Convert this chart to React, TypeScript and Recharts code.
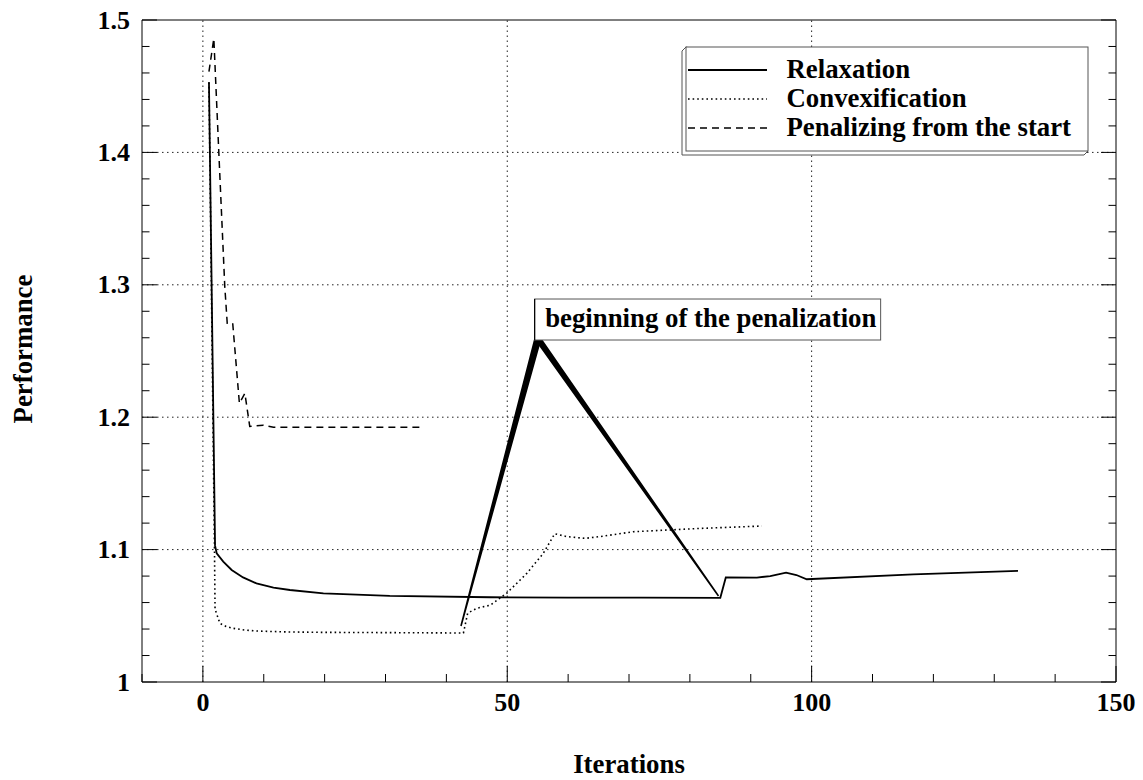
import React from 'react';
import { LineChart, Line, XAxis, YAxis, ReferenceLine, ReferenceDot, Legend } from 'recharts';

// ---------- data ----------
const relaxation = [
  { x: 1, y: 1.453 }, { x: 2, y: 1.103 }, { x: 2.27, y: 1.0972 }, { x: 3.35, y: 1.0909 },
  { x: 4.73, y: 1.0846 }, { x: 6.6, y: 1.079 }, { x: 8.8, y: 1.0745 }, { x: 11.6, y: 1.0712 },
  { x: 14.3, y: 1.0695 }, { x: 19.8, y: 1.067 }, { x: 30.7, y: 1.065 }, { x: 47.2, y: 1.064 },
  { x: 60, y: 1.0638 }, { x: 72, y: 1.0637 }, { x: 85, y: 1.0636 }, { x: 85.9, y: 1.079 },
  { x: 91, y: 1.0789 }, { x: 93.2, y: 1.08 }, { x: 95.8, y: 1.0826 }, { x: 97.5, y: 1.0808 },
  { x: 99.2, y: 1.0776 }, { x: 116.7, y: 1.0813 }, { x: 133.9, y: 1.084 },
];

const convexification = [
  { x: 1, y: 1.453 }, { x: 1.9, y: 1.103 }, { x: 2.0, y: 1.055 }, { x: 2.8, y: 1.0443 },
  { x: 3.8, y: 1.042 }, { x: 5, y: 1.0405 }, { x: 7, y: 1.0392 }, { x: 8.8, y: 1.0385 },
  { x: 14, y: 1.0378 }, { x: 19.7, y: 1.0375 }, { x: 30, y: 1.0373 }, { x: 42.8, y: 1.037 },
  { x: 43.5, y: 1.052 }, { x: 45, y: 1.0557 }, { x: 47.2, y: 1.058 }, { x: 49.9, y: 1.067 },
  { x: 53.2, y: 1.082 }, { x: 55.9, y: 1.097 }, { x: 57.8, y: 1.112 }, { x: 59.8, y: 1.1098 },
  { x: 62.8, y: 1.1085 }, { x: 65.2, y: 1.1098 }, { x: 70.7, y: 1.1135 }, { x: 81.7, y: 1.116 },
  { x: 91.8, y: 1.1178 },
];

const penalizing = [
  { x: 1, y: 1.461 }, { x: 1.8, y: 1.486 }, { x: 2.6, y: 1.402 }, { x: 3.6, y: 1.2986 },
  { x: 4.0, y: 1.271 }, { x: 4.9, y: 1.271 }, { x: 6.0, y: 1.2105 }, { x: 6.9, y: 1.218 },
  { x: 7.7, y: 1.193 }, { x: 9.9, y: 1.194 }, { x: 11.6, y: 1.1924 }, { x: 36, y: 1.1924 },
];

// wedge-shaped arrow marking the start of the penalization (fan of strokes)
const arrowLeft = [
  { x: 42.4, y: 1.0423 }, { x: 54.5, y: 1.2583 }, { x: 42.4, y: 1.0423 }, { x: 54.75, y: 1.2583 },
  { x: 42.4, y: 1.0423 }, { x: 55.0, y: 1.2583 }, { x: 42.4, y: 1.0423 }, { x: 55.25, y: 1.2583 },
  { x: 42.4, y: 1.0423 }, { x: 55.45, y: 1.2583 },
];
const arrowRight = [
  { x: 84.7, y: 1.065 }, { x: 54.7, y: 1.2583 }, { x: 84.7, y: 1.065 }, { x: 54.95, y: 1.2583 },
  { x: 84.7, y: 1.065 }, { x: 55.2, y: 1.2583 }, { x: 84.7, y: 1.065 }, { x: 55.45, y: 1.2583 },
  { x: 84.7, y: 1.065 }, { x: 55.65, y: 1.2583 },
];

const annotation = { x: 54.5, y: 1.2583, text: 'beginning of the penalization' };

const xDomain = [-10, 150];
const yDomain = [1, 1.5];
const xTicks = [-10, 0, 10, 20, 30, 40, 50, 60, 70, 80, 90, 100, 110, 120, 130, 140, 150];
const xMajor = [0, 50, 100, 150];
const yTicks = [
  1, 1.02, 1.04, 1.06, 1.08, 1.1, 1.12, 1.14, 1.16, 1.18, 1.2, 1.22, 1.24, 1.26, 1.28, 1.3,
  1.32, 1.34, 1.36, 1.38, 1.4, 1.42, 1.44, 1.46, 1.48, 1.5,
];
const yMajor = [1, 1.1, 1.2, 1.3, 1.4, 1.5];
const xGrid = [0, 50, 100];
const yGrid = [1.1, 1.2, 1.3, 1.4];

const series = [
  { name: 'Relaxation', data: relaxation, dash: undefined as string | undefined, width: 1.8 },
  { name: 'Convexification', data: convexification, dash: '1.6 3', width: 1.6 },
  { name: 'Penalizing from the start', data: penalizing, dash: '7 5', width: 1.5 },
];

// ---------- styling ----------
const FONT = "'Liberation Serif', 'Times New Roman', Times, serif";
const TEXT_SIZE = 26.8;
const TICK_SIZE = 26;
const W = 1143;
const H = 780;

const isMajorX = (v: number) => xMajor.some((m) => Math.abs(m - v) < 1e-9);
const isMajorY = (v: number) => yMajor.some((m) => Math.abs(m - v) < 1e-9);
const fmtY = (v: number) => String(Math.round(v * 10) / 10);

const BottomTick = (props: any) => {
  const { x, y, payload } = props;
  const major = isMajorX(payload.value);
  return (
    <g>
      <line x1={x} x2={x} y1={y} y2={y - (major ? 16 : 8)} stroke="#000" strokeWidth={1} />
      {major && (
        <text x={x} y={y + 29} textAnchor="middle" fontFamily={FONT} fontWeight="bold" fontSize={TICK_SIZE} fill="#000">
          {payload.value}
        </text>
      )}
    </g>
  );
};

const TopTick = (props: any) => {
  const { x, y, payload } = props;
  const major = isMajorX(payload.value);
  return <line x1={x} x2={x} y1={y} y2={y + (major ? 16 : 8)} stroke="#000" strokeWidth={1} />;
};

const LeftTick = (props: any) => {
  const { x, y, payload } = props;
  const major = isMajorY(payload.value);
  return (
    <g>
      <line x1={x} x2={x + (major ? 15 : 7.5)} y1={y} y2={y} stroke="#000" strokeWidth={1} />
      {major && (
        <text x={x - 12} y={y + 8.5} textAnchor="end" fontFamily={FONT} fontWeight="bold" fontSize={TICK_SIZE} fill="#000">
          {fmtY(payload.value)}
        </text>
      )}
    </g>
  );
};

const RightTick = (props: any) => {
  const { x, y, payload } = props;
  const major = isMajorY(payload.value);
  return <line x1={x} x2={x - (major ? 15 : 7.5)} y1={y} y2={y} stroke="#000" strokeWidth={1} />;
};

const XTitle = (props: any) => {
  const vb = props.viewBox || { x: 142, y: 682, width: 974, height: 98 };
  return (
    <text x={vb.x + vb.width / 2} y={vb.y + 91} textAnchor="middle" fontFamily={FONT} fontWeight="bold" fontSize={TEXT_SIZE} fill="#000">
      Iterations
    </text>
  );
};

const YTitle = (props: any) => {
  const vb = props.viewBox || { x: 0, y: 20, width: 142, height: 662 };
  const cx = 32;
  const cy = vb.y + vb.height / 2 - 2;
  return (
    <text x={cx} y={cy} transform={`rotate(-90 ${cx} ${cy})`} textAnchor="middle" fontFamily={FONT} fontWeight="bold" fontSize={TEXT_SIZE} fill="#000">
      Performance
    </text>
  );
};

const AnnotationShape = (props: any) => {
  const { cx, cy } = props;
  if (cx == null || cy == null) return null;
  return (
    <g>
      <rect x={cx} y={cy - 41} width={346} height={41} fill="#fff" stroke="#555" strokeWidth={1} />
      <line x1={cx} x2={cx} y1={cy} y2={cy - 41} stroke="#000" strokeWidth={1.2} />
      <text x={cx + 10.5} y={cy - 13} fontFamily={FONT} fontWeight="bold" fontSize={TEXT_SIZE} fill="#000">
        {annotation.text}
      </text>
    </g>
  );
};

const LegendBox = () => (
  <svg width={412} height={114} style={{ display: 'block', overflow: 'visible' }}>
    <polygon points="6,2 2,6 2,110 404,110 408,106" fill="#fff" stroke="#555" strokeWidth={1} />
    <rect x={6} y={2} width={402} height={104} fill="#fff" stroke="#555" strokeWidth={1} />
    {series.map((s, i) => {
      const ly = 25 + i * 29;
      return (
        <g key={s.name}>
          <line x1={8} x2={87} y1={ly} y2={ly} stroke="#000" strokeWidth={s.width} strokeDasharray={s.dash} />
          <text x={106.5} y={ly + 8} fontFamily={FONT} fontWeight="bold" fontSize={TEXT_SIZE} fill="#000">
            {s.name}
          </text>
        </g>
      );
    })}
  </svg>
);

export default function App() {
  return (
    <div style={{ position: 'absolute', left: 0, top: 0, width: W, height: H, background: '#fff' }}>
      <LineChart width={W} height={H} margin={{ top: 19, right: 26, bottom: 0, left: 0 }}>
        <XAxis
          xAxisId="x"
          type="number"
          dataKey="x"
          domain={xDomain}
          allowDataOverflow
          ticks={xTicks}
          interval={0}
          orientation="bottom"
          height={98}
          tickSize={0}
          tickMargin={0}
          tickLine={false}
          axisLine={{ stroke: '#000', strokeWidth: 1 }}
          tick={<BottomTick />}
          label={<XTitle />}
        />
        <XAxis
          xAxisId="top"
          type="number"
          domain={xDomain}
          allowDataOverflow
          ticks={xTicks}
          interval={0}
          orientation="top"
          height={1}
          tickSize={0}
          tickMargin={0}
          tickLine={false}
          axisLine={{ stroke: '#000', strokeWidth: 1 }}
          tick={<TopTick />}
        />
        <YAxis
          yAxisId="y"
          type="number"
          domain={yDomain}
          allowDataOverflow
          ticks={yTicks}
          interval={0}
          orientation="left"
          width={142}
          tickSize={0}
          tickMargin={0}
          tickLine={false}
          axisLine={{ stroke: '#000', strokeWidth: 1 }}
          tick={<LeftTick />}
          label={<YTitle />}
        />
        <YAxis
          yAxisId="right"
          type="number"
          domain={yDomain}
          allowDataOverflow
          ticks={yTicks}
          interval={0}
          orientation="right"
          width={1}
          tickSize={0}
          tickMargin={0}
          tickLine={false}
          axisLine={{ stroke: '#000', strokeWidth: 1 }}
          tick={<RightTick />}
        />
        {xGrid.map((v) => (
          <ReferenceLine key={'gx' + v} x={v} xAxisId="x" yAxisId="y" stroke="#222" strokeWidth={1} strokeDasharray="1.5 3.5" />
        ))}
        {yGrid.map((v) => (
          <ReferenceLine key={'gy' + v} y={v} xAxisId="x" yAxisId="y" stroke="#222" strokeWidth={1} strokeDasharray="1.5 3.5" />
        ))}
        {series.map((s) => (
          <Line
            key={s.name}
            name={s.name}
            data={s.data}
            dataKey="y"
            xAxisId="x"
            yAxisId="y"
            type="linear"
            stroke="#000"
            strokeWidth={s.width}
            strokeDasharray={s.dash}
            dot={false}
            activeDot={false}
            isAnimationActive={false}
          />
        ))}
        <Line
          name="arrowLeft"
          data={arrowLeft}
          dataKey="y"
          xAxisId="x"
          yAxisId="y"
          type="linear"
          stroke="#000"
          strokeWidth={1.6}
          dot={false}
          activeDot={false}
          legendType="none"
          isAnimationActive={false}
        />
        <Line
          name="arrowRight"
          data={arrowRight}
          dataKey="y"
          xAxisId="x"
          yAxisId="y"
          type="linear"
          stroke="#000"
          strokeWidth={1.6}
          dot={false}
          activeDot={false}
          legendType="none"
          isAnimationActive={false}
        />
        <ReferenceDot
          x={annotation.x}
          y={annotation.y}
          xAxisId="x"
          yAxisId="y"
          r={0}
          shape={<AnnotationShape />}
        />
        <Legend
          layout="vertical"
          align="center"
          verticalAlign="middle"
          wrapperStyle={{ position: 'absolute', left: 680, top: 45, width: 412, height: 114 }}
          content={() => <LegendBox />}
        />
      </LineChart>
    </div>
  );
}
